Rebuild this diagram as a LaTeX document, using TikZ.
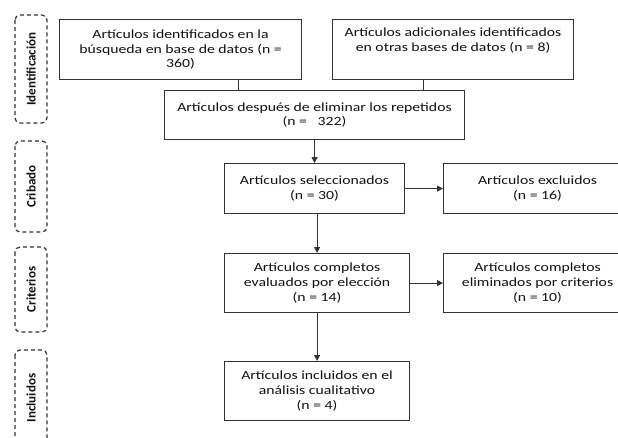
\documentclass[tikz,border=0pt]{standalone}
\usepackage{fontspec}
\setmainfont{Carlito}[FakeStretch=1.26]
\newfontfamily\labelfont{Carlito}
\usetikzlibrary{arrows.meta,calc}
\definecolor{linegray}{HTML}{333333}
\definecolor{txtgray}{HTML}{111111}
\tikzset{
  boxnode/.style={draw=linegray, line width=1.1pt, rectangle, inner sep=0pt, anchor=north west,
    align=center, text=txtgray, font=\fontsize{12.5}{14.8}\selectfont},
  phase/.style={draw=linegray, line width=1.2pt, dash pattern=on 4pt off 3pt, rounded corners=5pt,
    rotate=90, minimum height=32pt, inner sep=0pt, text=txtgray,
    font=\labelfont\fontsize{13}{15}\selectfont\bfseries},
  arr/.style={draw=linegray, line width=1.1pt, -{Triangle[length=6pt,width=6pt]}},
  conn/.style={draw=linegray, line width=1.1pt}
}
\begin{document}
\begin{tikzpicture}[x=1pt,y=-1pt]
\useasboundingbox (0,0) rectangle (618,437);
\fill[white] (0,0) rectangle (618,437);
\clip (0,0) rectangle (618,437);

% phase labels
\node[phase, minimum width=108pt] (pid) at (31,69) {Identificación};
\node[phase, minimum width=91pt] (pcr) at (31,186.5) {Cribado};
\node[phase, minimum width=85pt] (pcc) at (31,289.5) {Criterios};
\node[phase, minimum width=96pt] (pin) at (31,398) {Incluidos};

% boxes
\node[boxnode, minimum width=242pt, minimum height=60pt] (b1) at (59,19)
  {Artículos identificados en la\\búsqueda en base de datos (n =\\360)};
\node[boxnode, minimum width=241pt, minimum height=60pt] (b2) at (332,19)
  {Artículos adicionales identificados\\en otras bases de datos (n = 8)\\\strut};
\node[boxnode, minimum width=300pt, minimum height=49pt] (dp) at (164,90)
  {Artículos después de eliminar los repetidos\\(n = \ \ 322)};
\node[boxnode, minimum width=180pt, minimum height=50pt] (sel) at (224,163)
  {Artículos seleccionados\\(n = 30)};
\node[boxnode, minimum width=188pt, minimum height=50pt] (exc) at (443,163)
  {Artículos excluidos\\(n = 16)};
\node[boxnode, minimum width=185pt, minimum height=59pt] (comp) at (224,253)
  {Artículos completos\\evaluados por elección\\(n = 14)};
\node[boxnode, minimum width=188pt, minimum height=59pt] (elim) at (443,253)
  {Artículos completos\\eliminados por criterios\\(n = 10)};
\node[boxnode, minimum width=185pt, minimum height=59pt] (inc) at (224,361)
  {Artículos incluidos en el\\análisis cualitativo\\(n = 4)};

% connectors
\draw[conn] ([xshift=58pt]b1.south) -- ([xshift=58pt]b1.south |- dp.north);
\draw[conn] ([xshift=-29.5pt]b2.south) -- ([xshift=-29.5pt]b2.south |- dp.north);
\draw[arr] (dp.south) -- (dp.south |- sel.north);
\draw[arr] (sel.east) -- (sel.east -| exc.west);
\draw[arr] (sel.south -| comp.north) -- (comp.north);
\draw[arr] (comp.east) -- (comp.east -| elim.west);
\draw[arr] (comp.south) -- (inc.north);
\end{tikzpicture}
\end{document}
